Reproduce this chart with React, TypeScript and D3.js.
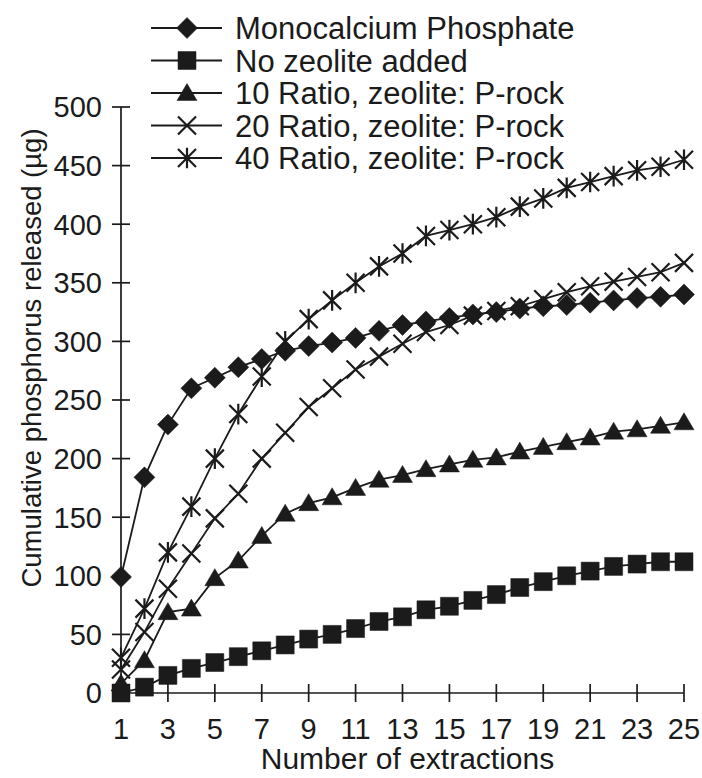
import React from 'react';
import * as d3 from 'd3';

const extractions = d3.range(1, 26);
const xTicks = [1, 3, 5, 7, 9, 11, 13, 15, 17, 19, 21, 23, 25];
const yTicks = [0, 50, 100, 150, 200, 250, 300, 350, 400, 450, 500];

const monocalcium = [99, 184, 229, 260, 269, 278, 285, 292, 296, 299, 303, 309, 314, 317, 320, 323, 325, 328, 330, 331, 333, 335, 337, 338, 340];
const noZeolite = [0, 5, 15, 21, 26, 31, 36, 41, 46, 50, 55, 61, 65, 71, 74, 79, 84, 90, 95, 100, 104, 108, 110, 112, 112];
const ratio10 = [8, 28, 69, 72, 98, 113, 134, 153, 162, 167, 175, 182, 186, 191, 195, 199, 201, 206, 210, 214, 218, 223, 225, 228, 231];
const ratio20 = [20, 52, 89, 119, 149, 170, 200, 222, 244, 260, 276, 287, 298, 308, 314, 322, 326, 330, 336, 342, 347, 351, 355, 359, 367];
const ratio40 = [30, 72, 120, 159, 200, 238, 270, 300, 319, 335, 350, 364, 375, 390, 395, 400, 406, 415, 422, 431, 436, 441, 446, 449, 455];

const seriesNames = [
  'Monocalcium Phosphate',
  'No zeolite added',
  '10 Ratio, zeolite: P-rock',
  '20 Ratio, zeolite: P-rock',
  '40 Ratio, zeolite: P-rock',
];

const INK = '#1b1b1b';
const FONT = '"Liberation Sans", Arial, Helvetica, sans-serif';

// marker shapes drawn around (0,0)
const diamond = { draw(ctx: any, r: number) { ctx.moveTo(0, -r); ctx.lineTo(r, 0); ctx.lineTo(0, r); ctx.lineTo(-r, 0); ctx.closePath(); } };
const square = { draw(ctx: any, r: number) { ctx.rect(-r, -r, 2 * r, 2 * r); } };
const triangle = { draw(ctx: any, r: number) { ctx.moveTo(0, -r * 0.95); ctx.lineTo(r, r * 0.75); ctx.lineTo(-r, r * 0.75); ctx.closePath(); } };
const cross = { draw(ctx: any, r: number) { ctx.moveTo(-r, -r); ctx.lineTo(r, r); ctx.moveTo(r, -r); ctx.lineTo(-r, r); } };
const asterisk = { draw(ctx: any, r: number) { ctx.moveTo(-r, -r); ctx.lineTo(r, r); ctx.moveTo(r, -r); ctx.lineTo(-r, r); ctx.moveTo(0, -r * 1.15); ctx.lineTo(0, r * 1.15); } };

const series = [
  { name: seriesNames[0], values: monocalcium, shape: diamond, r: 10.5, filled: true },
  { name: seriesNames[1], values: noZeolite, shape: square, r: 9, filled: true },
  { name: seriesNames[2], values: ratio10, shape: triangle, r: 10, filled: true },
  { name: seriesNames[3], values: ratio20, shape: cross, r: 9, filled: false },
  { name: seriesNames[4], values: ratio40, shape: asterisk, r: 9, filled: false },
];

function Marker({ shape, r, filled, x, y }: any) {
  const path = d3.path();
  shape.draw(path, r);
  return (
    <path
      d={path.toString()}
      transform={`translate(${x},${y})`}
      fill={filled ? INK : 'none'}
      stroke={INK}
      strokeWidth={filled ? 0.5 : 2.2}
    />
  );
}

export default function App() {
  const width = 702;
  const height = 778;
  const x = d3.scaleLinear().domain([1, 25]).range([121, 684]);
  const y = d3.scaleLinear().domain([0, 500]).range([693, 107]);
  const line = d3.line<number>().x((_, i) => x(extractions[i])).y(d => y(d));
  const tk = 9;

  return (
    <svg width={width} height={height} style={{ position: 'absolute', left: 0, top: 0, background: '#fff' }} fontFamily={FONT}>
      {/* axes */}
      <line x1={x(1)} x2={x(1)} y1={y(0)} y2={y(500)} stroke={INK} strokeWidth={1.7} />
      <line x1={x(1)} x2={x(25)} y1={y(0)} y2={y(0)} stroke={INK} strokeWidth={1.7} />
      {yTicks.map(t => (
        <g key={'y' + t}>
          <line x1={x(1) - tk} x2={x(1) + tk} y1={y(t)} y2={y(t)} stroke={INK} strokeWidth={1.7} />
          <text x={102} y={y(t)} dy="0.36em" textAnchor="end" fontSize={29} fill={INK}>{t}</text>
        </g>
      ))}
      {xTicks.map(t => (
        <g key={'x' + t}>
          <line x1={x(t)} x2={x(t)} y1={y(0) - tk} y2={y(0) + tk} stroke={INK} strokeWidth={1.7} />
          <text x={x(t)} y={739} textAnchor="middle" fontSize={29} fill={INK}>{t}</text>
        </g>
      ))}
      <text x={(x(1) + x(25)) / 2 + 5} y={769} textAnchor="middle" fontSize={30} fill={INK}>Number of extractions</text>
      <text transform={`translate(41,358) rotate(-90)`} textAnchor="middle" fontSize={27.5} fill={INK}>Cumulative phosphorus released (µg)</text>

      {/* series */}
      {series.map(s => (
        <g key={s.name}>
          <path d={line(s.values) || ''} fill="none" stroke={INK} strokeWidth={1.8} />
          {s.values.map((v, i) => (
            <Marker key={i} shape={s.shape} r={s.r} filled={s.filled} x={x(extractions[i])} y={y(v)} />
          ))}
        </g>
      ))}

      {/* legend */}
      {series.map((s, i) => {
        const ly = 28 + i * 32.5;
        return (
          <g key={'lg' + i}>
            <line x1={151} x2={222} y1={ly} y2={ly} stroke={INK} strokeWidth={1.8} />
            <Marker shape={s.shape} r={s.r} filled={s.filled} x={187} y={ly} />
            <text x={235} y={ly} dy="0.36em" fontSize={31} fill={INK}>{s.name}</text>
          </g>
        );
      })}
    </svg>
  );
}
